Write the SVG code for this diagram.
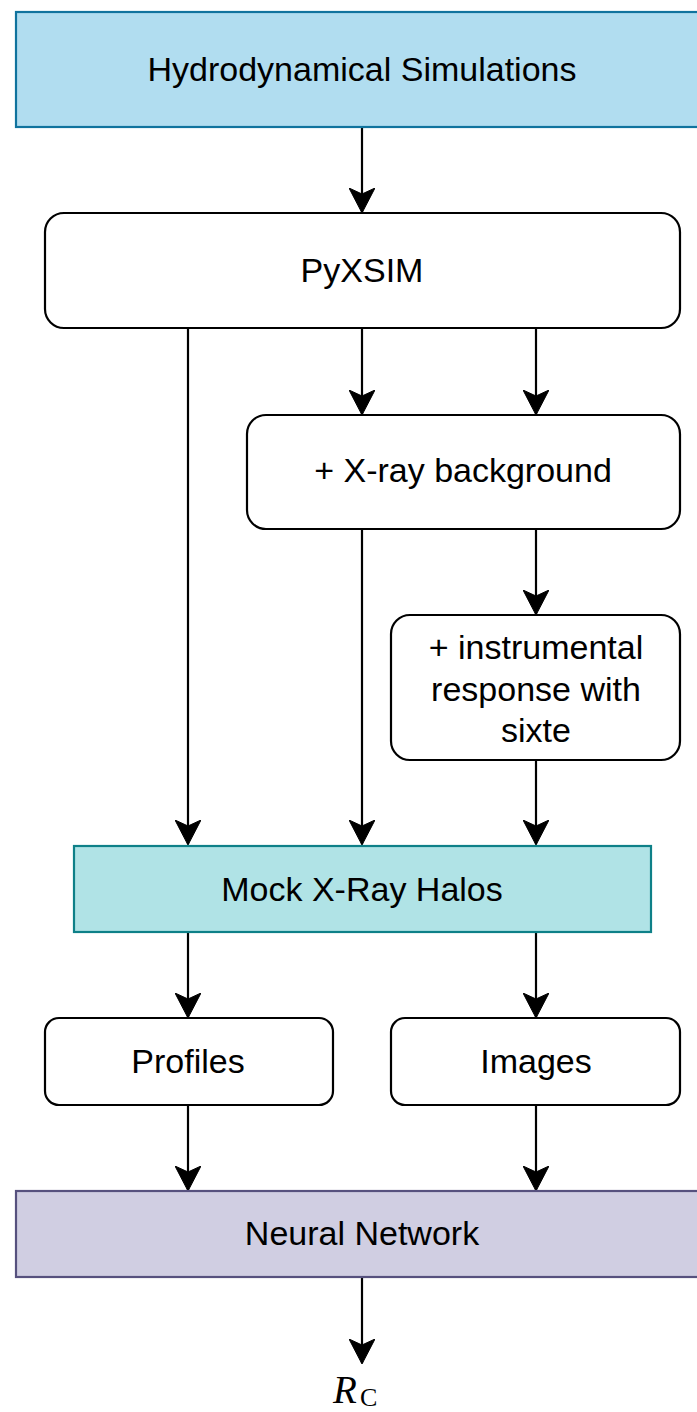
<svg xmlns="http://www.w3.org/2000/svg" width="697" height="1412" viewBox="0 0 697 1412">
<defs>
<style>
.lbl{font-family:"Liberation Sans",Arial,sans-serif;font-size:34px;fill:#000;text-anchor:middle}
.box{fill:#fff;stroke:#000;stroke-width:2.2}
.edge{fill:none;stroke:#000;stroke-width:2.2}
</style>
<marker id="arr" viewBox="0 0 26 26" refX="24" refY="13" markerWidth="26" markerHeight="26" markerUnits="userSpaceOnUse" orient="auto">
<path d="M0,0 L25,13 L0,26 L6,13 Z" fill="#000" stroke="#000" stroke-width="1" stroke-linejoin="miter"/>
</marker>
</defs>
<rect width="697" height="1412" fill="#fff"/>
<g id="connectors">
<line class="edge" x1="362" y1="128" x2="362" y2="212" marker-end="url(#arr)"/>
<line class="edge" x1="188" y1="329" x2="188" y2="844" marker-end="url(#arr)"/>
<line class="edge" x1="362" y1="329" x2="362" y2="414" marker-end="url(#arr)"/>
<line class="edge" x1="536" y1="329" x2="536" y2="414" marker-end="url(#arr)"/>
<line class="edge" x1="362" y1="530" x2="362" y2="844" marker-end="url(#arr)"/>
<line class="edge" x1="536" y1="530" x2="536" y2="614" marker-end="url(#arr)"/>
<line class="edge" x1="536" y1="761" x2="536" y2="844" marker-end="url(#arr)"/>
<line class="edge" x1="188" y1="933" x2="188" y2="1017" marker-end="url(#arr)"/>
<line class="edge" x1="536" y1="933" x2="536" y2="1017" marker-end="url(#arr)"/>
<line class="edge" x1="188" y1="1106" x2="188" y2="1190" marker-end="url(#arr)"/>
<line class="edge" x1="536" y1="1106" x2="536" y2="1190" marker-end="url(#arr)"/>
<line class="edge" x1="362" y1="1278" x2="362" y2="1363" marker-end="url(#arr)"/>
</g>
<g id="hydro">
<rect x="16" y="12" width="700" height="115" fill="#b1ddf0" stroke="#10739e" stroke-width="2.2"/>
<text class="lbl" x="362" y="81">Hydrodynamical Simulations</text>
</g>
<g id="pyxsim">
<rect class="box" x="45" y="213" width="635" height="115" rx="19"/>
<text class="lbl" x="362" y="282">PyXSIM</text>
</g>
<g id="xraybg">
<rect class="box" x="247" y="415" width="433" height="114" rx="19"/>
<text class="lbl" x="463" y="482">+ X-ray background</text>
</g>
<g id="instrumental">
<rect class="box" x="391" y="615" width="289" height="145" rx="19"/>
<text class="lbl" x="536" y="659">+ instrumental</text>
<text class="lbl" x="536" y="701">response with</text>
<text class="lbl" x="536" y="742">sixte</text>
</g>
<g id="mock">
<rect x="74" y="846" width="577" height="86" fill="#b0e3e6" stroke="#0e8088" stroke-width="2.2"/>
<text class="lbl" x="362" y="901">Mock X-Ray Halos</text>
</g>
<g id="profiles">
<rect class="box" x="45" y="1018" width="288" height="87" rx="14"/>
<text class="lbl" x="188" y="1073">Profiles</text>
</g>
<g id="images">
<rect class="box" x="391" y="1018" width="289" height="87" rx="14"/>
<text class="lbl" x="536" y="1073">Images</text>
</g>
<g id="nn">
<rect x="16" y="1191" width="700" height="86" fill="#d0cee2" stroke="#56517e" stroke-width="2.2"/>
<text class="lbl" x="362" y="1245">Neural Network</text>
</g>
<g id="rc">
<text x="333" y="1403" font-family="'Liberation Serif','Times New Roman',serif" font-size="39" font-style="italic">R</text>
<text x="360" y="1406" font-family="'Liberation Serif','Times New Roman',serif" font-size="26">C</text>
</g>
</svg>
